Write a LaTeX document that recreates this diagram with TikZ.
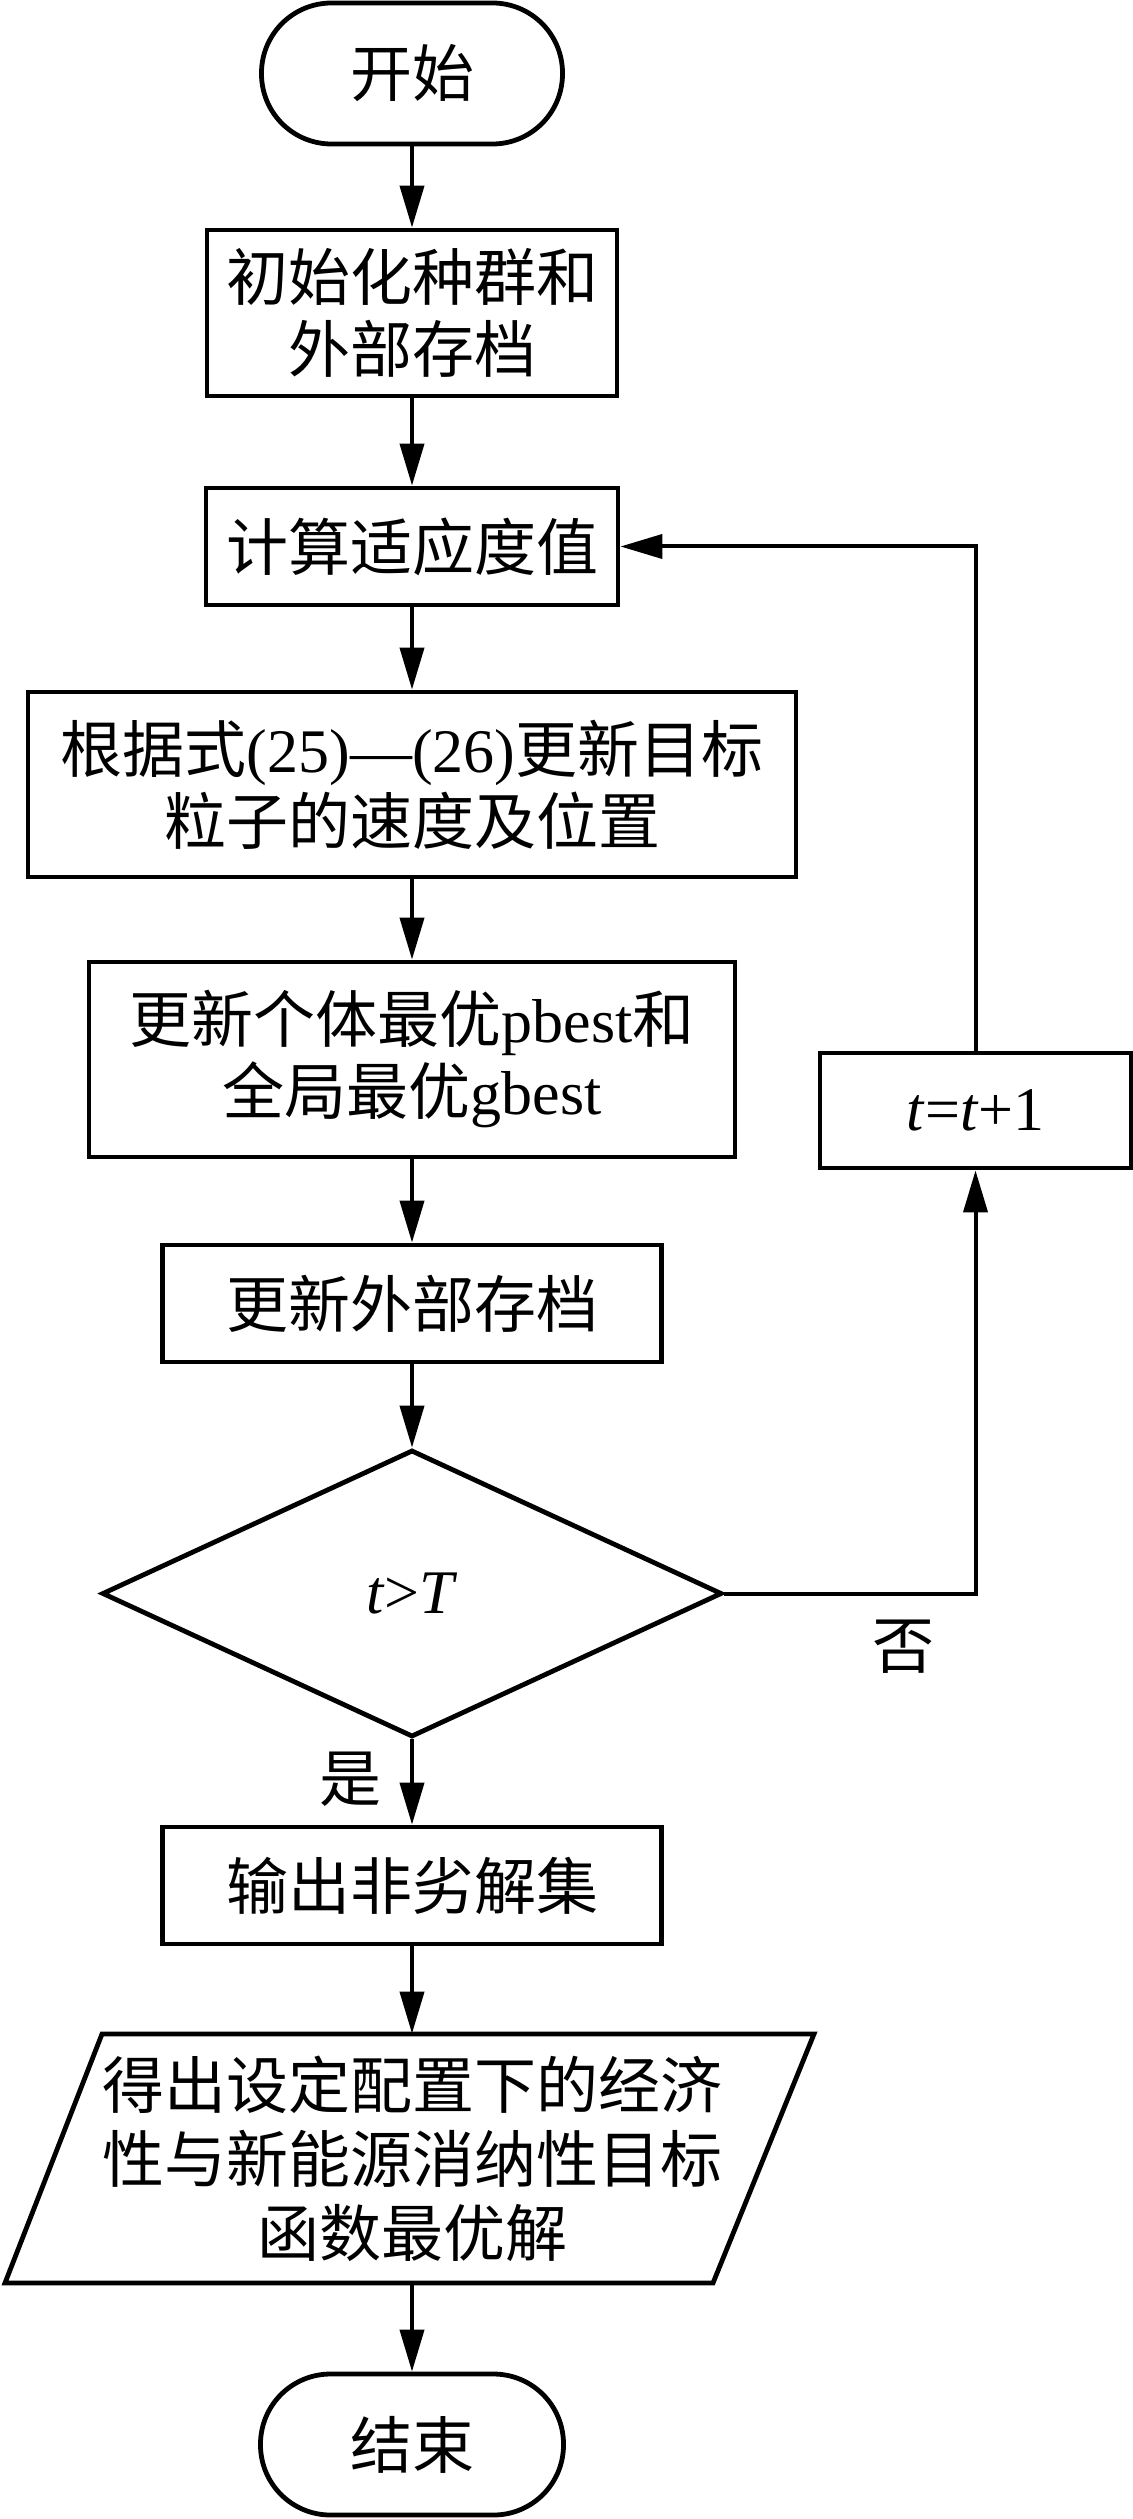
\documentclass[tikz,border=0pt]{standalone}
\usepackage{fontspec}
\setmainfont{Liberation Serif}
\newfontfamily\cjk{Noto Sans CJK SC}
\usetikzlibrary{arrows.meta,shapes.geometric}
\tikzset{
  base/.style={draw, line width=2.4pt, inner sep=0pt, align=center,
    font=\fontsize{31}{36}\selectfont},
  procbox/.style={base, rectangle},
  termbox/.style={base, rectangle, rounded corners=35pt},
  decbox/.style={base, diamond},
  flow/.style={line width=2pt, -{Triangle[length=21pt,width=12pt]}},
  lab/.style={inner sep=0pt, font=\fontsize{31}{36}\selectfont},
}
\begin{document}
\begin{tikzpicture}[x=0.5pt,y=-0.5pt]
\useasboundingbox (0,0) rectangle (1133,2519);
\node[termbox, minimum width=150.5pt, minimum height=70.5pt] (start) at (412,73.5) {\cjk 开始};
\node[procbox, minimum width=205pt, minimum height=83pt] (init) at (412,313) {\cjk 初始化种群和\\\cjk 外部存档};
\node[procbox, minimum width=206pt, minimum height=58.5pt] (fit) at (412,546.5) {\cjk 计算适应度值};
\node[procbox, minimum width=384pt, minimum height=92.5pt] (upd) at (412,784.5) {{\cjk 根据式}(25)—(26){\cjk 更新目标}\\\cjk 粒子的速度及位置};
\node[procbox, minimum width=323pt, minimum height=97.5pt] (best) at (412,1059.5) {{\cjk 更新个体最优}pbest{\cjk 和}\\{\cjk 全局最优}gbest};
\node[procbox, minimum width=249.5pt, minimum height=58.5pt] (arch) at (412,1303.5) {\cjk 更新外部存档};
\node[decbox, minimum width=310pt, minimum height=143.5pt, aspect=2.16] (dec) at (412,1593.5) {\textit{t}>\textit{T}};
\node[procbox, minimum width=155.5pt, minimum height=57.5pt] (inc) at (975.5,1110.5) {\textit{t}=\textit{t}+1};
\node[procbox, minimum width=249.5pt, minimum height=58.5pt] (outp) at (412,1885.5) {\cjk 输出非劣解集};
\node[inner sep=0pt, minimum width=300pt, minimum height=124.5pt, align=center,
  font=\fontsize{31}{37}\selectfont] (res) at (412,2158.5)
  {\cjk 得出设定配置下的经济\\\cjk 性与新能源消纳性目标\\\cjk 函数最优解};
\draw[line width=2.4pt, line join=miter] (102,2034) -- (814,2034) -- (713,2283) -- (5,2283) -- cycle;
\node[termbox, minimum width=151.5pt, minimum height=70.5pt] (stop) at (412,2444.5) {\cjk 结束};
\node[lab] (yes) at (350,1779) {\cjk 是};
\node[lab] (no) at (903,1647) {\cjk 否};
\draw[flow] (start) -- (init);
\draw[flow] (init) -- (fit);
\draw[flow] (fit) -- (upd);
\draw[flow] (upd) -- (best);
\draw[flow] (best) -- (arch);
\draw[flow] (arch) -- (dec);
\draw[flow] (dec) -- (outp);
\draw[flow] (outp) -- (res);
\draw[flow] (res) -- (stop);
\draw[flow] (dec.east) -| (inc.south);
\draw[flow] (inc.north) |- (fit.east);
\end{tikzpicture}
\end{document}
